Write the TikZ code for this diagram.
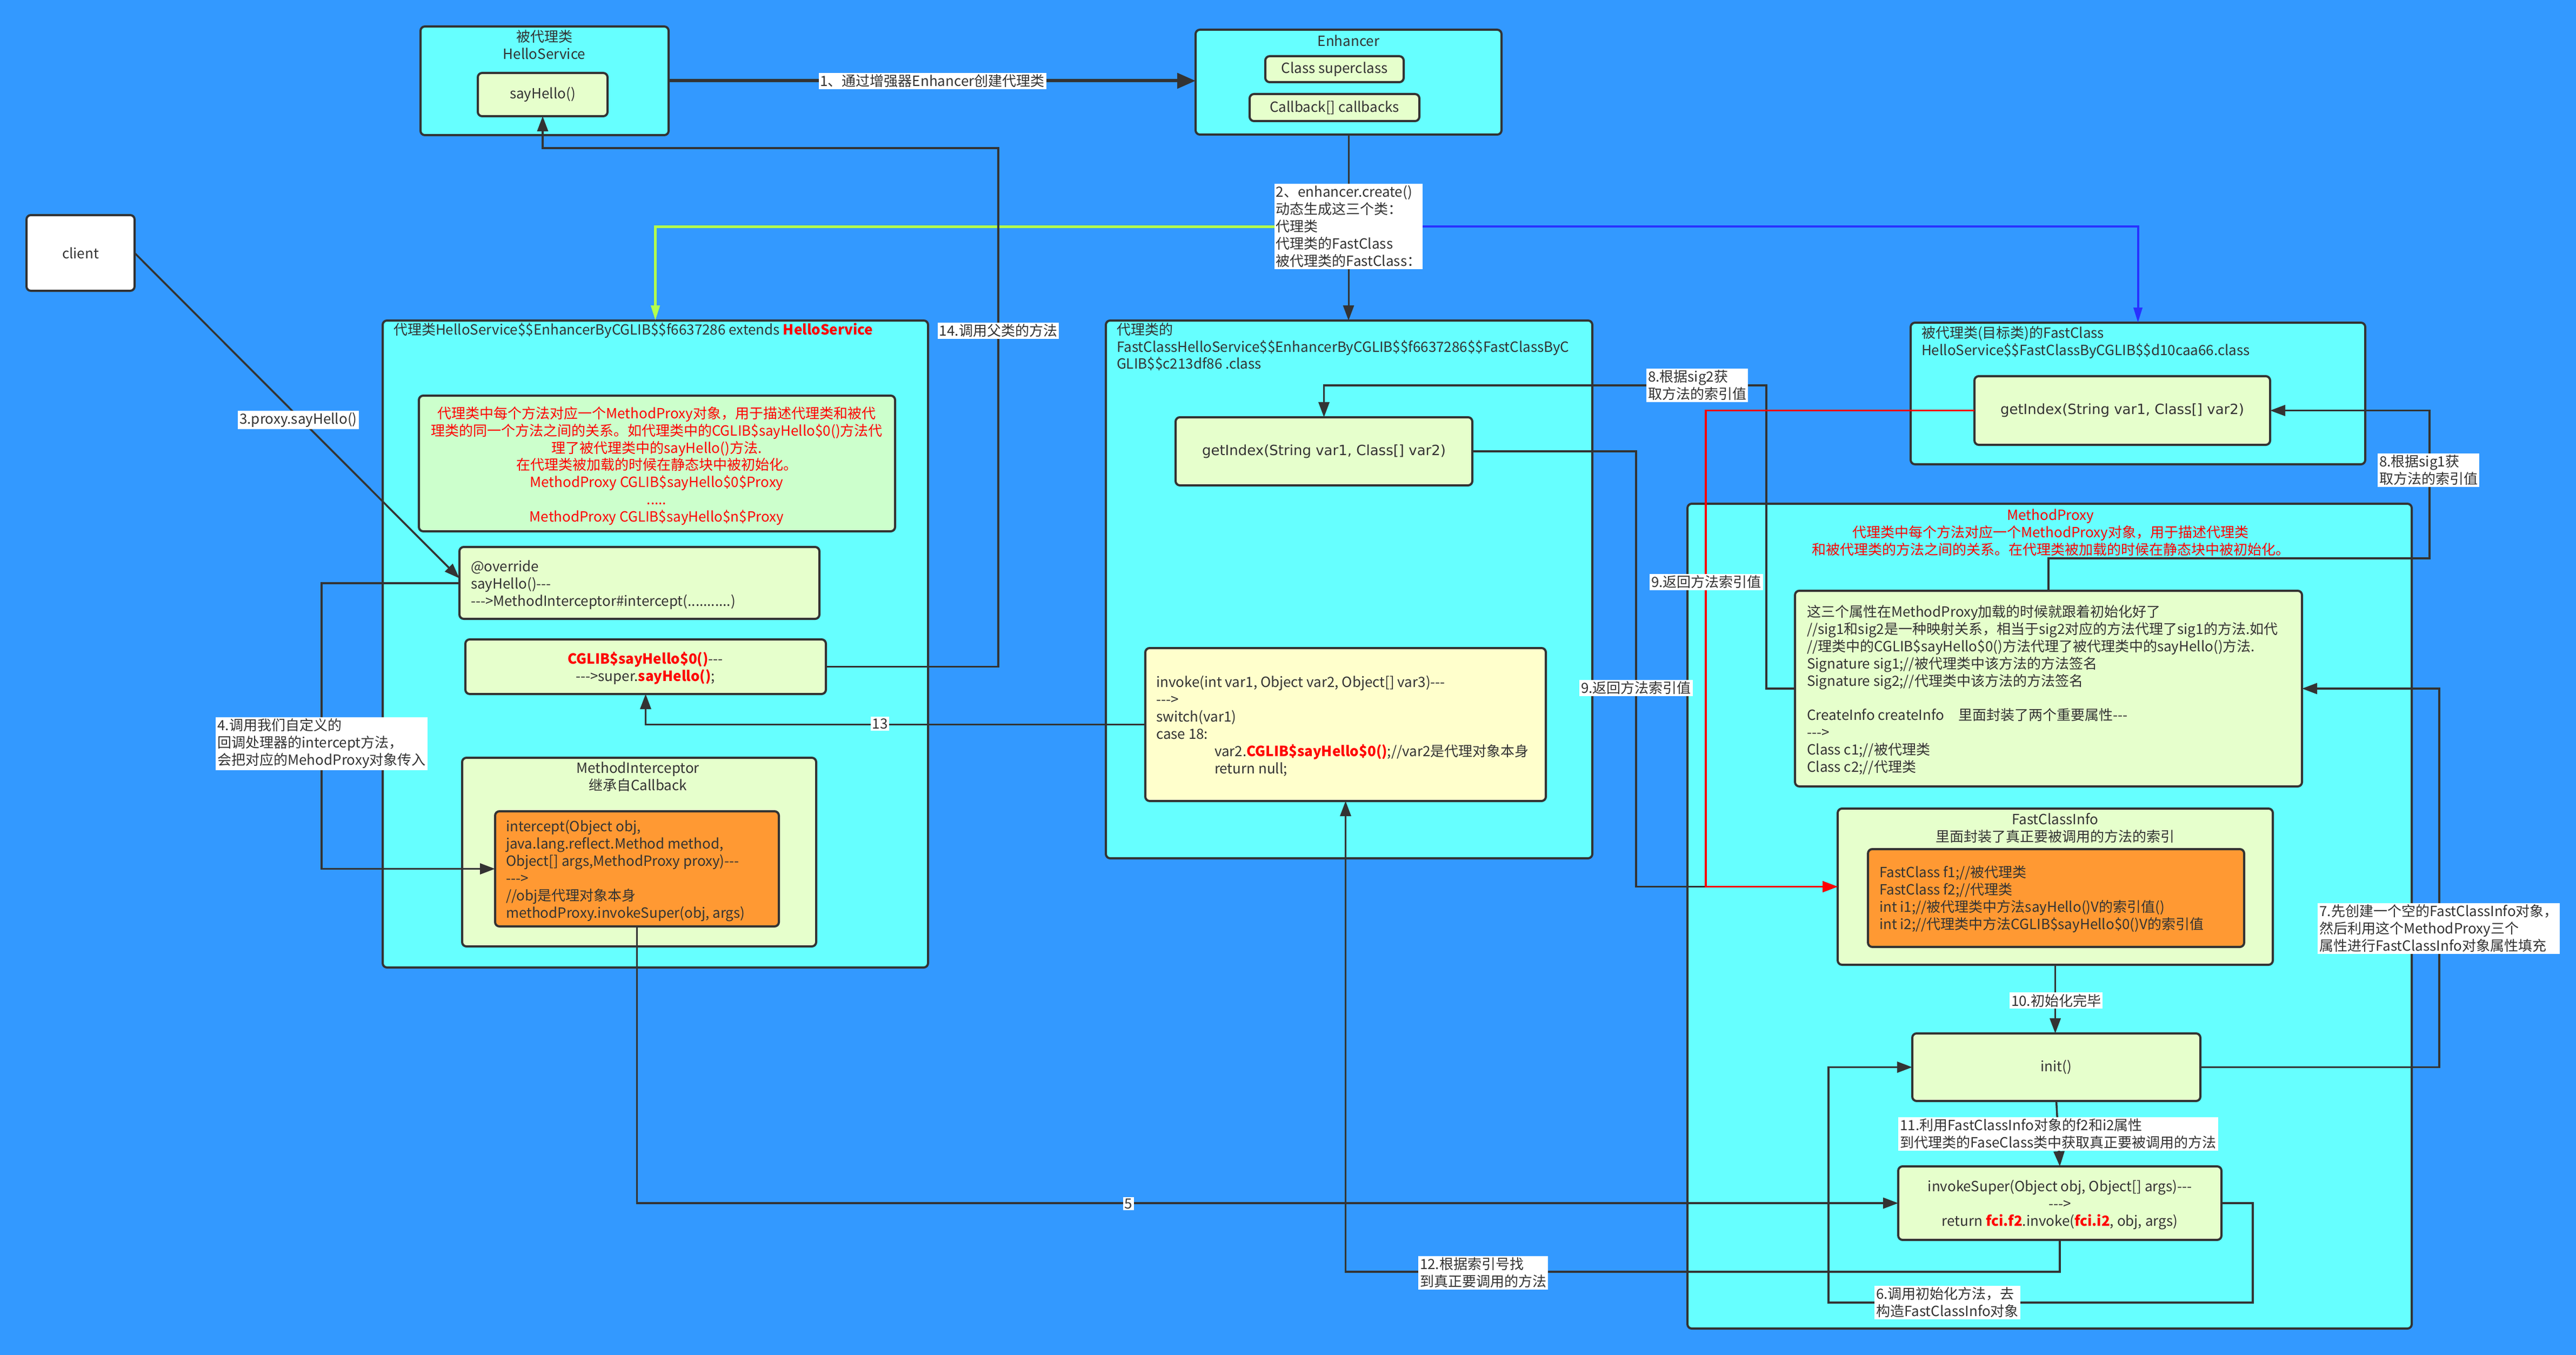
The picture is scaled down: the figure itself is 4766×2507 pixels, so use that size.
\documentclass[tikz,border=0pt]{standalone}
\usepackage{fontspec}
\setmainfont{Noto Sans CJK SC}[Ligatures=TeXOff]
\newfontfamily\dvs{DejaVu Sans}
\usetikzlibrary{arrows.meta,calc}
\definecolor{bgc}{RGB}{51,153,255}
\definecolor{cy}{RGB}{102,255,255}
\definecolor{lg}{RGB}{230,255,204}
\definecolor{rg}{RGB}{204,255,204}
\definecolor{orc}{RGB}{255,153,51}
\definecolor{ly}{RGB}{255,255,204}
\definecolor{bd}{RGB}{51,51,51}
\definecolor{tc}{RGB}{51,51,51}
\definecolor{rd}{RGB}{255,0,0}
\definecolor{gl}{RGB}{179,255,77}
\definecolor{bl}{RGB}{40,50,255}
\pgfdeclarelayer{boxl}
\pgfdeclarelayer{linel}
\pgfsetlayers{boxl,linel,main}
\newcommand{\mkbox}[6]{\node[#1, minimum width={(#5)-(#3)}, minimum height={(#6)-(#4)}] (#2) at ({((#3)+(#5))/2},{((#4)+(#6))/2}) {};}
\tikzset{
  every node/.style={inner sep=0pt, outer sep=0pt},
  box/.style={draw=bd, line width=4pt, rounded corners=8pt},
  cyanb/.style={box, fill=cy},
  greenb/.style={box, fill=lg},
  orangeb/.style={box, fill=orc},
  yellowb/.style={box, fill=ly},
  redbg/.style={box, fill=rg},
  whiteb/.style={box, fill=white},
  txt/.style={text=tc, font=\fontsize{26}{32}\selectfont, align=left},
  ctxt/.style={txt, align=center},
  lbl/.style={txt, fill=white, inner sep=3pt},
  plain/.style={draw=bd, line width=3.5pt},
  conn/.style={plain, -{Triangle[length=28pt,width=20pt]}},
}
\begin{document}
\begin{tikzpicture}[x=1pt,y=-1pt]
\begin{pgfonlayer}{boxl}
\fill[bgc] (0,0) rectangle (4766,2507);
\useasboundingbox (0,0) rectangle (4766,2507);
% top
\mkbox{cyanb}{hs}{778}{49}{1237}{250}
\mkbox{greenb}{sayhello}{884}{135}{1124}{215}
\mkbox{cyanb}{enh}{2212}{55}{2778}{249}
\mkbox{greenb}{sup}{2341}{104}{2597}{152}
\mkbox{greenb}{cb}{2312}{174}{2626}{224}
\mkbox{whiteb}{client}{49}{398}{249}{538}
% proxy class
\mkbox{cyanb}{proxy}{708}{593}{1717}{1790}
\mkbox{redbg}{mpnote}{775}{732}{1656}{983}
\mkbox{greenb}{ov}{850}{1012}{1516}{1145}
\mkbox{greenb}{cglib}{861}{1183}{1528}{1284}
\mkbox{greenb}{mi}{855}{1402}{1510}{1751}
\mkbox{orangeb}{icpt}{916}{1501}{1441}{1714}
% fastclass of proxy
\mkbox{cyanb}{fc}{2046}{593}{2946}{1588}
\mkbox{greenb}{gi1}{2175}{772}{2724}{898}
\mkbox{yellowb}{inv}{2119}{1199}{2860}{1482}
% target fastclass
\mkbox{cyanb}{tfc}{3535}{597}{4376}{859}
\mkbox{greenb}{gi2}{3653}{696}{4200}{823}
% method proxy
\mkbox{cyanb}{mp}{3122}{932}{4462}{2458}
\mkbox{greenb}{sig}{3321}{1093}{4259}{1455}
\mkbox{greenb}{fci}{3400}{1496}{4205}{1785}
\mkbox{orangeb}{fcio}{3456}{1571}{4152}{1752}
\mkbox{greenb}{init}{3538}{1912}{4071}{2037}
\mkbox{greenb}{isup}{3512}{2158}{4110}{2294}
\end{pgfonlayer}

% ---------- texts in boxes
\node[ctxt] (hst) at (1007,83) {被代理类\\HelloService};
\node[ctxt] at (sayhello) {sayHello()};
\node[ctxt] (enht) at (2495,75) {Enhancer};
\node[ctxt] at (sup) {Class superclass};
\node[ctxt] at (cb) {Callback[] callbacks};
\node[ctxt] at (client) {client};

\node[txt, anchor=west] (proxyt) at (728,612) {代理类HelloService\$\$EnhancerByCGLIB\$\$f6637286 extends {\color{rd}\bfseries HelloService}};
\node[ctxt, text=rd, font=\fontsize{26}{31.7}\selectfont] (mpnotet) at (1215,862) {代理类中每个方法对应一个MethodProxy对象，用于描述代理类和被代\\理类的同一个方法之间的关系。如代理类中的CGLIB\$sayHello\$0()方法代\\理了被代理类中的sayHello()方法.\\在代理类被加载的时候在静态块中被初始化。\\MethodProxy CGLIB\$sayHello\$0\$Proxy\\.....\\MethodProxy CGLIB\$sayHello\$n\$Proxy};
\node[txt, anchor=west] (ovt) at (871,1082) {@override\\sayHello()---\\--->MethodInterceptor\#intercept(...........)};
\node[ctxt] (cglibt) at (1194,1236) {{\color{rd}\bfseries CGLIB\$sayHello\$0()}---\\--->super.{\color{rd}\bfseries sayHello()};};
\node[ctxt] (mit) at (1180,1437) {MethodInterceptor\\继承自Callback};
\node[txt, anchor=west] (icptt) at (936,1611) {intercept(Object obj,\\java.lang.reflect.Method method,\\Object[] args,MethodProxy proxy)---\\--->\\//obj是代理对象本身\\methodProxy.invokeSuper(obj, args)};

\node[txt, anchor=west, font=\fontsize{26}{31.5}\selectfont] (fct) at (2066,642) {代理类的\\FastClassHelloService\$\$EnhancerByCGLIB\$\$f6637286\$\$FastClassByC\\GLIB\$\$c213df86 .class};
\node[ctxt, font=\dvs\fontsize{26}{32}\selectfont] at (gi1) {getIndex(String var1, Class[] var2)};
\node[txt, anchor=west] (invt) at (2139,1343.5) {invoke(int var1, Object var2, Object[] var3)---\\--->\\switch(var1)\\case 18:\\\hspace*{108pt}var2.{\color{rd}\bfseries CGLIB\$sayHello\$0()};//var2是代理对象本身\\\hspace*{108pt}return null;};

\node[txt, anchor=west] (tfct) at (3555,634) {被代理类(目标类)的FastClass\\HelloService\$\$FastClassByCGLIB\$\$d10caa66.class};
\node[ctxt, font=\dvs\fontsize{26}{32}\selectfont] at (gi2) {getIndex(String var1, Class[] var2)};

\node[ctxt, text=rd] (mpt) at (3794,985) {MethodProxy\\代理类中每个方法对应一个MethodProxy对象，用于描述代理类\\和被代理类的方法之间的关系。在代理类被加载的时候在静态块中被初始化。};
\node[txt, anchor=west, font=\fontsize{26}{31.9}\selectfont] (sigt) at (3343,1276.5) {这三个属性在MethodProxy加载的时候就跟着初始化好了\\//sig1和sig2是一种映射关系，相当于sig2对应的方法代理了sig1的方法.如代\\//理类中的CGLIB\$sayHello\$0()方法代理了被代理类中的sayHello()方法.\\Signature sig1;//被代理类中该方法的方法签名\\Signature sig2;//代理类中该方法的方法签名\\~\\CreateInfo createInfo\quad 里面封装了两个重要属性---\\--->\\Class c1;//被代理类\\Class c2;//代理类};
\node[ctxt] (fcit) at (3802,1532) {FastClassInfo\\里面封装了真正要被调用的方法的索引};
\node[txt, anchor=west] (fciot) at (3477,1664) {FastClass f1;//被代理类\\FastClass f2;//代理类\\int i1;//被代理类中方法sayHello()V的索引值()\\int i2;//代理类中方法CGLIB\$sayHello\$0()V的索引值};
\node[ctxt] at (init) {init()};
\node[ctxt] (isupt) at (3811,2229) {invokeSuper(Object obj, Object[] args)---\\--->\\return {\color{rd}\bfseries fci.f2}.invoke({\color{rd}\bfseries fci.i2}, obj, args)};

% ---------- labels
\node[lbl] (lab1) at (1725,150) {1、通过增强器Enhancer创建代理类};
\node[lbl] (lab2) at (2495,419) {2、enhancer.create()\\动态生成这三个类：\\代理类\\代理类的FastClass\\被代理类的FastClass：};
\node[lbl] (lab3) at (552,777) {3.proxy.sayHello()};
\node[lbl] (lab4) at (595,1376) {4.调用我们自定义的\\回调处理器的intercept方法，\\会把对应的MehodProxy对象传入};
\node[lbl] (lab5) at (2088,2227) {5};
\node[lbl] (lab6) at (3603,2410) {6.调用初始化方法，去\\构造FastClassInfo对象};
\node[lbl] (lab7) at (4512,1718) {7.先创建一个空的FastClassInfo对象，\\然后利用这个MethodProxy三个\\属性进行FastClassInfo对象属性填充};
\node[lbl] (lab8a) at (4493,870) {8.根据sig1获\\取方法的索引值};
\node[lbl] (lab8b) at (3140,713) {8.根据sig2获\\取方法的索引值};
\node[lbl] (lab9a) at (3027,1273) {9.返回方法索引值};
\node[lbl] (lab9b) at (3157,1077) {9.返回方法索引值};
\node[lbl] (lab10) at (3804,1851) {10.初始化完毕};
\node[lbl] (lab11) at (3808,2098) {11.利用FastClassInfo对象的f2和i2属性\\到代理类的FaseClass类中获取真正要被调用的方法};
\node[lbl] (lab12) at (2744,2355) {12.根据索引号找\\到真正要调用的方法};
\node[lbl] (lab13) at (1628,1339) {13};
\node[lbl] (lab14) at (1847,612) {14.调用父类的方法};

% ---------- connectors
\begin{pgfonlayer}{linel}
\draw[plain, line width=6pt, -{Triangle[length=34pt,width=28pt]}] (hs.east) -- (hs.east -| enh.west);
\draw[plain, line width=3pt] (enh.south) -- (lab2.north);
\draw[conn, line width=3pt] (lab2.south) -- (lab2.south |- fc.north);
\draw[draw=gl, line width=5pt, -{Triangle[length=28pt,width=16pt]}] (lab2.west) -| (proxy.north);
\draw[draw=bl, line width=4pt, -{Triangle[length=28pt,width=16pt]}] (lab2.east) -| (tfc.north);
\draw[conn] (client.east) -- (ov.west |- 0,1070);
\draw[conn] (ov.west |- 0,1079) -- (595,1079) |- (icpt.west);
\draw[conn] (icpt.south) |- (isup.west);
\draw[conn] (isup.east) -| (4168,2410) -- (3383,2410) |- (init.west);
\draw[conn] (init.east) -| (4513,1274) -- (sig.east);
\draw[conn] (sig.north) |- (4495,1033) |- (gi2.east);
\draw[conn] (sig.west) -| (3268,713) -| (gi1.north);
\draw[conn] (gi1.east) -| (3027,1640.5) -- (fci.west);
\draw[draw=rd, line width=3.5pt, -{Triangle[length=28pt,width=20pt]}] (gi2.west) -| (3156,1640.5) -- (fci.west);
\draw[conn] (fci.south) -- (fci.south |- init.north);
\draw[conn] (init.south) -- (isup.north);
\draw[conn] (isup.south) -- ++(0,59) -| (inv.south);
\draw[conn] (inv.west) -| (cglib.south);
\draw[conn] (cglib.east) -| (1847,274) -| (sayhello.south);
\end{pgfonlayer}
\end{tikzpicture}
\end{document}
